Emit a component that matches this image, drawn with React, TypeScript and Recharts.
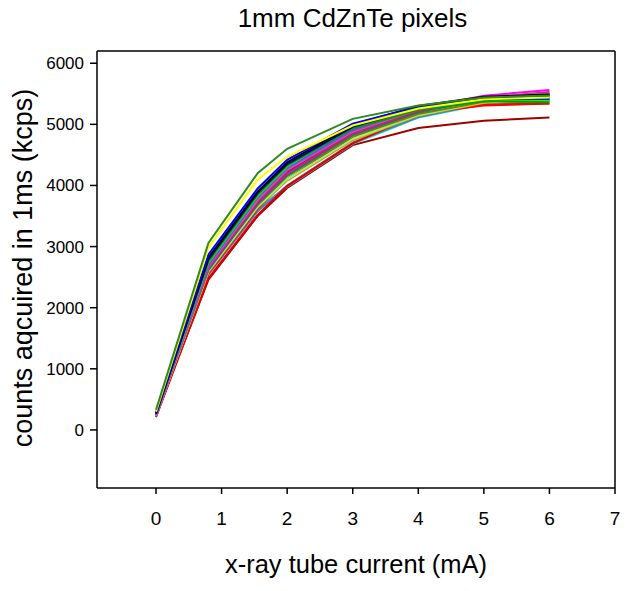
import React from "react";
import { LineChart, Line, XAxis, YAxis, ReferenceLine } from "recharts";

const currents = [0, 0.8, 1.55, 2, 3, 4, 5, 6];
const xTicks = [0, 1, 2, 3, 4, 5, 6, 7];
const yTicks = [0, 1000, 2000, 3000, 4000, 5000, 6000];

const pixelA = [330, 3060, 4200, 4600, 5090, 5310, 5440, 5470];
const pixelB = [300, 2980, 4100, 4470, 4980, 5260, 5410, 5440];
const pixelC = [280, 2870, 3950, 4420, 5010, 5290, 5420, 5420];
const pixelD = [270, 2820, 3900, 4380, 4990, 5300, 5450, 5490];
const pixelE = [260, 2790, 3880, 4350, 4960, 5270, 5440, 5480];
const pixelF = [290, 2760, 3850, 4330, 4930, 5240, 5380, 5360];
const pixelG = [250, 2700, 3800, 4280, 4900, 5260, 5470, 5560];
const pixelH = [240, 2680, 3760, 4250, 4880, 5240, 5440, 5510];
const pixelI = [240, 2650, 3720, 4200, 4850, 5220, 5430, 5530];
const pixelJ = [230, 2560, 3620, 4100, 4800, 5180, 5310, 5340];
const pixelK = [250, 2620, 3700, 4170, 4830, 5200, 5400, 5450];
const pixelL = [220, 2560, 3620, 3980, 4680, 5110, 5330, 5390];
const pixelM = [260, 2640, 3680, 4150, 4800, 5170, 5370, 5440];
const pixelN = [230, 2600, 3650, 4100, 4760, 5150, 5360, 5420];
const pixelO = [250, 2680, 3740, 4220, 4860, 5230, 5420, 5500];
const pixelP = [240, 2580, 3640, 4080, 4740, 5140, 5350, 5400];
const pixelQ = [260, 2720, 3820, 4300, 4920, 5260, 5400, 5410];
const pixelR = [240, 2660, 3750, 4230, 4870, 5230, 5430, 5500];
const pixelS = [220, 2540, 3580, 4000, 4700, 5120, 5340, 5400];
const pixelT = [250, 2460, 3500, 3960, 4660, 4940, 5060, 5110];
const pixelU = [210, 2480, 3520, 3990, 4690, 5170, 5320, 5340];
const pixelV = [270, 2740, 3830, 4310, 4950, 5280, 5400, 5380];

const seriesList = [
  { key: "p20", values: pixelT, color: "#a00000" },
  { key: "p12", values: pixelL, color: "#00e0e0" },
  { key: "p19", values: pixelS, color: "#4080c0" },
  { key: "p21", values: pixelU, color: "#e00000" },
  { key: "p10", values: pixelJ, color: "#ff0000" },
  { key: "p16", values: pixelP, color: "#ff8000" },
  { key: "p14", values: pixelN, color: "#80ff80" },
  { key: "p13", values: pixelM, color: "#808000" },
  { key: "p11", values: pixelK, color: "#008080" },
  { key: "p18", values: pixelR, color: "#c0c0c0" },
  { key: "p15", values: pixelO, color: "#800080" },
  { key: "p9", values: pixelI, color: "#ff0080" },
  { key: "p8", values: pixelH, color: "#808080" },
  { key: "p7", values: pixelG, color: "#ff00ff" },
  { key: "p17", values: pixelQ, color: "#0080ff" },
  { key: "p22", values: pixelV, color: "#00ff00" },
  { key: "p6", values: pixelF, color: "#00a000" },
  { key: "p5", values: pixelE, color: "#000080" },
  { key: "p4", values: pixelD, color: "#000000" },
  { key: "p3", values: pixelC, color: "#0000ff" },
  { key: "p2", values: pixelB, color: "#ffff00" },
  { key: "p1", values: pixelA, color: "#2f8a1f" },
];

const data = currents.map((x, i) => {
  const row: Record<string, number> = { x };
  seriesList.forEach((s) => {
    row[s.key] = s.values[i];
  });
  return row;
});

const font = "'Liberation Sans', Arial, sans-serif";

export default function App() {
  return (
    <div style={{ position: "absolute", left: 0, top: 0, width: 629, height: 591, background: "#fff", fontFamily: font }}>
      <LineChart
        width={629}
        height={591}
        data={data}
        margin={{ top: 51, right: 14, bottom: 63, left: 37 }}
      >
        <XAxis
          dataKey="x"
          type="number"
          domain={[-0.9, 7]}
          ticks={xTicks}
          allowDataOverflow
          height={40}
          tickSize={6}
          tickMargin={18}
          stroke="#000"
          strokeWidth={1.5}
          tick={{ fill: "#000", fontSize: 19, fontFamily: font }}
        />
        <YAxis
          type="number"
          domain={[-950, 6200]}
          ticks={yTicks}
          allowDataOverflow
          width={60}
          tickSize={7}
          tickMargin={6}
          stroke="#000"
          strokeWidth={1.5}
          tick={{ fill: "#000", fontSize: 17, fontFamily: font }}
        />
        <ReferenceLine y={6200} stroke="#000" strokeWidth={1.5} ifOverflow="visible" />
        <ReferenceLine x={7} stroke="#000" strokeWidth={1.5} ifOverflow="visible" />
        {seriesList.map((s) => (
          <Line
            key={s.key}
            dataKey={s.key}
            stroke={s.color}
            strokeWidth={2}
            dot={false}
            isAnimationActive={false}
          />
        ))}
      </LineChart>
      <div style={{ position: "absolute", left: 0, width: 629, top: 3, textAlign: "center", paddingLeft: 76, boxSizing: "border-box", fontSize: 26, color: "#000" }}>
        1mm CdZnTe pixels
      </div>
      <div style={{ position: "absolute", left: 0, width: 629, top: 550, textAlign: "center", paddingLeft: 83, boxSizing: "border-box", fontSize: 25.5, color: "#000" }}>
        x-ray tube current (mA)
      </div>
      <div
        style={{
          position: "absolute",
          left: 23,
          top: 268,
          transform: "translate(-50%, -50%) rotate(-90deg)",
          whiteSpace: "nowrap",
          fontSize: 27,
          color: "#000",
        }}
      >
        counts aqcuired in 1ms (kcps)
      </div>
    </div>
  );
}
